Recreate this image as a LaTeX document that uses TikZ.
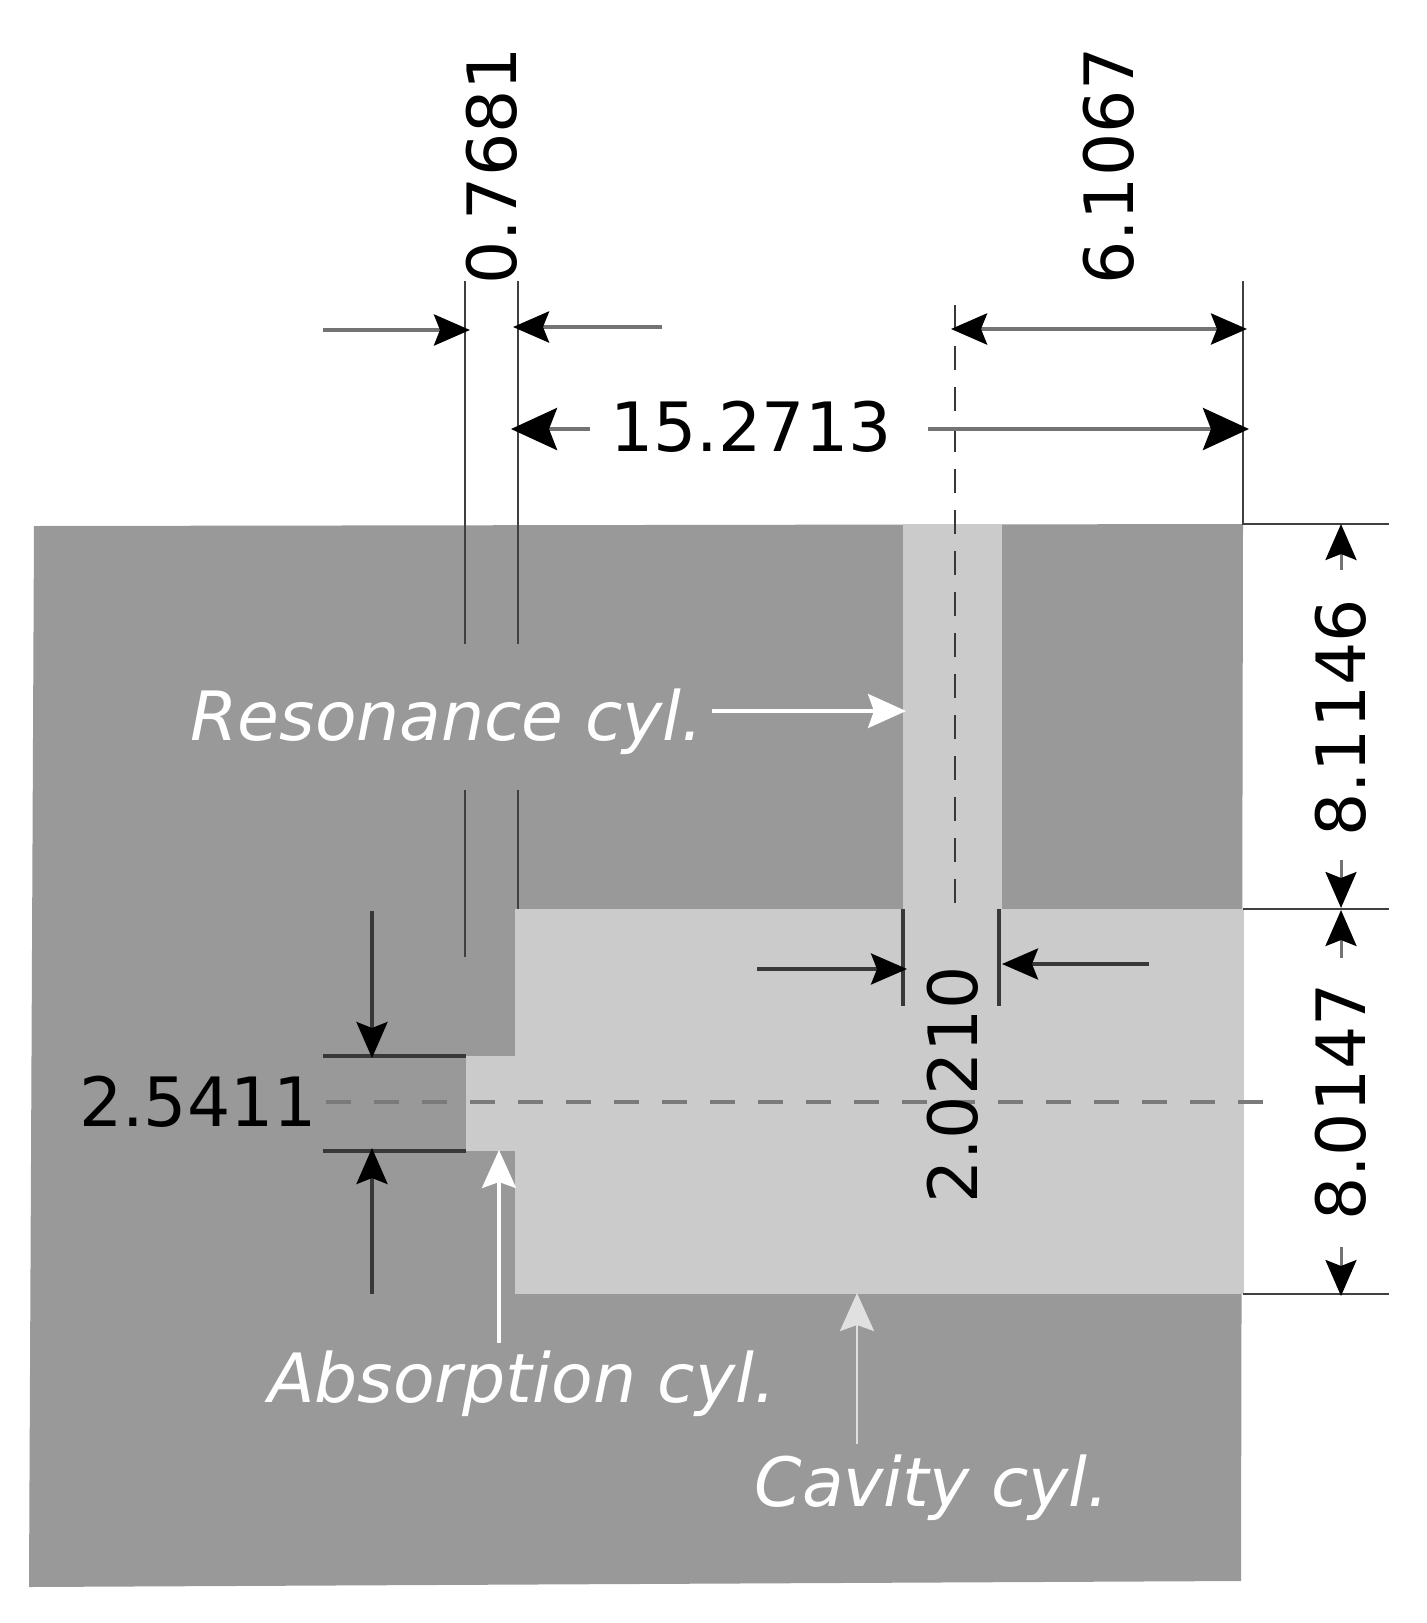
\documentclass[tikz,border=0pt]{standalone}
\usepackage{fontspec}
\setmainfont{DejaVu Sans}
\usetikzlibrary{arrows.meta}
\definecolor{solidgray}{gray}{0.60}
\definecolor{cavgray}{gray}{0.795}
\definecolor{dimline}{gray}{0.22}
\definecolor{softline}{gray}{0.45}
\tikzset{
  x=1pt,y=-1pt,
  tipsmall/.tip={Stealth[length=36pt,width=31pt,inset=6pt,color=black]},
  tipbig/.tip={Stealth[length=46pt,width=42pt,inset=8pt,color=black]},
  lab/.style={inner sep=0pt,font=\fontsize{68}{70}\selectfont,text=black},
  vlab/.style={lab,rotate=90},
  ilab/.style={inner sep=0pt,anchor=base,font=\fontsize{68}{70}\selectfont\itshape,text=white},
  ext/.style={draw=dimline,line width=4pt},
  extthin/.style={draw=black!75,line width=2.6pt},
  dim/.style={draw=dimline,line width=3.6pt,-tipsmall},
  softdim/.style={draw=softline,line width=4.4pt,-tipsmall},
  softdimboth/.style={draw=softline,line width=4.4pt,tipsmall-tipsmall},
  thindim/.style={draw=softline,line width=3pt,-tipsmall},
  dimbig/.style={draw=softline,line width=4.6pt,-tipbig},
  center line/.style={draw=black!52,line width=3.6pt,dash pattern=on 25pt off 23pt},
  vcenter/.style={draw=black!78,line width=2.4pt,dash pattern=on 24pt off 17pt},
  wharrow/.style={draw=white,line width=3.4pt,-{Stealth[length=38pt,width=34pt,inset=6pt]}},
}
\begin{document}
\begin{tikzpicture}
\useasboundingbox (0,0) rectangle (1427,1623);
\fill[white] (0,0) rectangle (1427,1623);
% solids
\fill[solidgray] (34,526) -- (1243,524) -- (1241,1581) -- (29,1587) -- cycle;
\fill[cavgray] (903,524) rectangle (1002,909);
\fill[cavgray] (515,909) rectangle (1244,1294);
\fill[cavgray] (466,1056) rectangle (515,1151);
% named end points
\coordinate (t1a) at (465,281); \coordinate (t1b) at (465,644);
\coordinate (t1c) at (465,790); \coordinate (t1d) at (465,957);
\coordinate (t2a) at (518,281); \coordinate (t2b) at (518,644);
\coordinate (t2c) at (518,790); \coordinate (t2d) at (518,909);
\coordinate (t3a) at (1243,281); \coordinate (t3b) at (1243,525);
\coordinate (cva) at (955,305); \coordinate (cvb) at (955,909);
\coordinate (a1s) at (323,330); \coordinate (a1e) at (470,330);
\coordinate (a2s) at (662,327); \coordinate (a2e) at (513,327);
\coordinate (a3m) at (1100,329); \coordinate (a3s) at (951,329); \coordinate (a3e) at (1247,329);
\coordinate (r1a) at (1243,524); \coordinate (r1b) at (1389,524);
\coordinate (r2a) at (1243,909); \coordinate (r2b) at (1389,909);
\coordinate (r3a) at (1243,1294); \coordinate (r3b) at (1389,1294);
\coordinate (d1a) at (1341,570); \coordinate (d1b) at (1341,524);
\coordinate (d2a) at (1341,860); \coordinate (d2b) at (1341,908);
\coordinate (d3a) at (1341,958); \coordinate (d3b) at (1341,910);
\coordinate (d4a) at (1341,1247); \coordinate (d4b) at (1341,1296);
\coordinate (w1a) at (903,909); \coordinate (w1b) at (903,1006);
\coordinate (w2a) at (999,909); \coordinate (w2b) at (999,1006);
\coordinate (w3s) at (757,969); \coordinate (w3e) at (907,969);
\coordinate (w4s) at (1149,964); \coordinate (w4e) at (1002,964);
\coordinate (h1a) at (323,1056); \coordinate (h1b) at (466,1056);
\coordinate (h2a) at (323,1151); \coordinate (h2b) at (466,1151);
\coordinate (v1s) at (372,911); \coordinate (v1e) at (372,1058);
\coordinate (v2s) at (372,1294); \coordinate (v2e) at (372,1148);
\coordinate (chs) at (326,1102); \coordinate (che) at (1273,1102);
\coordinate (wr1s) at (712,711); \coordinate (wr1e) at (906,711);
\coordinate (wr2s) at (499,1343); \coordinate (wr2e) at (499,1150);
\coordinate (wr3s) at (857,1444); \coordinate (wr3e) at (857,1293);
% extension lines
\draw[extthin] (t1a) -- (t1b);
\draw[extthin] (t2a) -- (t2b);
\draw[extthin] (t1c) -- (t1d);
\draw[extthin] (t2c) -- (t2d);
\draw[extthin] (t3a) -- (t3b);
\draw[extthin] (r1a) -- (r1b);
\draw[extthin] (r2a) -- (r2b);
\draw[extthin] (r3a) -- (r3b);
\draw[ext] (w1a) -- (w1b);
\draw[ext] (w2a) -- (w2b);
\draw[ext] (h1a) -- (h1b);
\draw[ext] (h2a) -- (h2b);
% centre lines
\draw[vcenter] (cva) -- (cvb);
\draw[center line] (chs) -- (che);
% dimension arrows
\draw[softdim] (a1s) -- (a1e);
\draw[softdim] (a2s) -- (a2e);
\draw[softdimboth] (a3s) -- (a3e);
\node[lab] (l15) at (751,427) {15.2713};
\coordinate (b1s) at (590,429); \coordinate (b1e) at (511,429);
\coordinate (b2s) at (928,429); \coordinate (b2e) at (1249,429);
\draw[dimbig] (b1s) -- (b1e);
\draw[dimbig] (b2s) -- (b2e);
\draw[thindim] (d1a) -- (d1b);
\draw[thindim] (d2a) -- (d2b);
\draw[thindim] (d3a) -- (d3b);
\draw[thindim] (d4a) -- (d4b);
\draw[dim] (w3s) -- (w3e);
\draw[dim] (w4s) -- (w4e);
\draw[dim] (v1s) -- (v1e);
\draw[dim] (v2s) -- (v2e);
% white arrows
\draw[wharrow] (wr1s) -- (wr1e);
\draw[wharrow] (wr2s) -- (wr2e);
\draw[wharrow,line width=2.6pt,draw=white!88!black] (wr3s) -- (wr3e);
% labels
\node[vlab] (l07) at (492,166) {0.7681};
\node[vlab] (l61) at (1109,166) {6.1067};
\node[vlab] (l81) at (1341,718) {8.1146};
\node[vlab] (l80) at (1341,1102) {8.0147};
\node[vlab] (l20) at (953,1085) {2.0210};
\node[lab] (l25) at (198,1102) {2.5411};
\node[ilab] (res) at (447,740) {Resonance cyl.};
\node[ilab] (abs) at (522,1402) {Absorption cyl.};
\node[ilab] (cav) at (932,1506) {Cavity cyl.};
\end{tikzpicture}
\end{document}
